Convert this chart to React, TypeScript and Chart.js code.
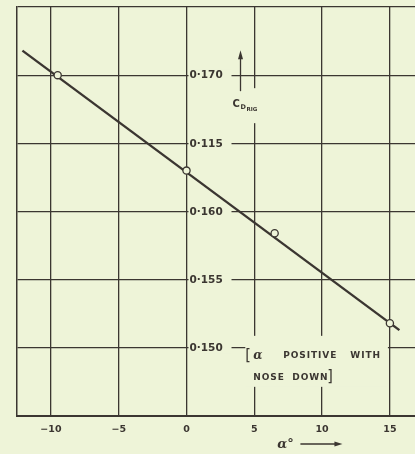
import React, { useEffect, useRef } from "react";
import { Chart, registerables } from "chart.js";

Chart.register(...registerables);

const xTicks = [-10, -5, 0, 5, 10, 15];
const xTickLabels = ["−10", "−5", "0", "5", "10", "15"];
const yTicks = [0.15, 0.155, 0.16, 0.165, 0.17];
const yTickLabels = ["0·150", "0·155", "0·160", "0·115", "0·170"];
const pointsX = [-9.5, 0, 6.5, 15];
const pointsY = [0.17, 0.163, 0.1584, 0.1518];
const lineX = [-12.1, 15.7];
const lineY = [0.1718, 0.1513];

const BG = "#eef4d8";
const INK = "#3b3631";
const FONT = "'DejaVu Sans', sans-serif";

const overlay = {
  id: "overlay",
  beforeDraw(chart: any) {
    const c = chart.ctx;
    c.save();
    c.fillStyle = BG;
    c.fillRect(0, 0, chart.width, chart.height);
    c.restore();
  },
  beforeDatasetsDraw(chart: any) {
    const c = chart.ctx;
    const xs = chart.scales.x;
    const ys = chart.scales.y;
    const x0 = xs.getPixelForValue(0);
    const x5 = xs.getPixelForValue(5);
    c.save();
    // y tick labels inside plot at x = 0
    c.font = `bold 10.5px ${FONT}`;
    c.textBaseline = "middle";
    c.textAlign = "left";
    yTicks.forEach((v, i) => {
      const py = ys.getPixelForValue(v);
      c.fillStyle = BG;
      c.fillRect(x0 + 2, py - 6, 43, 12);
      c.fillStyle = INK;
      c.fillText(yTickLabels[i], x0 + 3, py + 0.5);
    });
    // C_D RIG label and arrow
    const y170 = ys.getPixelForValue(0.17);
    c.fillStyle = BG;
    c.fillRect(x5 - 4, y170 + 13, 8, 35);
    c.strokeStyle = INK;
    c.fillStyle = INK;
    c.lineWidth = 1.3;
    const ax = x0 + 54;
    c.beginPath();
    c.moveTo(ax, y170 + 16);
    c.lineTo(ax, y170 - 20);
    c.stroke();
    c.beginPath();
    c.moveTo(ax, y170 - 25);
    c.lineTo(ax - 2.5, y170 - 16);
    c.lineTo(ax + 2.5, y170 - 16);
    c.closePath();
    c.fill();
    c.font = `bold 10px ${FONT}`;
    c.fillText("C", x0 + 46, y170 + 29);
    c.font = `bold 6.5px ${FONT}`;
    c.fillText("D", x0 + 54, y170 + 32);
    c.font = `bold 5.5px ${FONT}`;
    c.fillText("RIG", x0 + 60, y170 + 34);
    // annotation
    const y150 = ys.getPixelForValue(0.15);
    const x15 = xs.getPixelForValue(15);
    c.fillStyle = BG;
    c.fillRect(x5 - 9, y150 - 12, x15 - x5 + 7, 51);
    c.fillStyle = INK;
    c.font = `16px 'DejaVu Sans Condensed', ${FONT}`;
    c.fillText("[", x5 - 9, y150 + 8);
    c.font = `italic bold 12px 'DejaVu Serif', serif`;
    c.fillText("α", x5 - 1, y150 + 8);
    c.font = `bold 9px ${FONT}`;
    (c as any).letterSpacing = "0.9px";
    c.fillText("POSITIVE", x5 + 29, y150 + 8);
    c.fillText("WITH", x5 + 96, y150 + 8);
    c.fillText("NOSE", x5 - 1, y150 + 30);
    c.fillText("DOWN", x5 + 38, y150 + 30);
    (c as any).letterSpacing = "0px";
    c.font = `16px 'DejaVu Sans Condensed', ${FONT}`;
    c.fillText("]", x5 + 73, y150 + 29);
    // x axis label
    const bottom = chart.chartArea.bottom;
    c.font = `italic bold 13px 'DejaVu Serif', serif`;
    c.fillText("α°", xs.getPixelForValue(6.7), bottom + 29);
    c.beginPath();
    c.moveTo(xs.getPixelForValue(8.4), bottom + 28);
    c.lineTo(xs.getPixelForValue(11.2), bottom + 28);
    c.stroke();
    const hx = xs.getPixelForValue(11.5);
    c.beginPath();
    c.moveTo(hx, bottom + 28);
    c.lineTo(hx - 8, bottom + 25.5);
    c.lineTo(hx - 8, bottom + 30.5);
    c.closePath();
    c.fill();
    c.restore();
  },
};

export default function App() {
  const ref = useRef<HTMLCanvasElement>(null);
  useEffect(() => {
    document.body.style.margin = "0";
    document.body.style.background = BG;
    const chart = new Chart(ref.current!, {
      type: "scatter",
      data: {
        datasets: [
          {
            data: pointsX.map((x, i) => ({ x, y: pointsY[i] })),
            pointRadius: 3.6,
            pointBorderWidth: 1.3,
            borderColor: INK,
            backgroundColor: BG,
            showLine: false,
          },
          {
            type: "line",
            data: lineX.map((x, i) => ({ x, y: lineY[i] })),
            pointRadius: 0,
            borderWidth: 2.4,
            borderColor: INK,
            showLine: true,
          } as any,
        ],
      },
      options: {
        animation: false,
        responsive: false,
        layout: { autoPadding: false, padding: { left: 17, top: 7, right: 0, bottom: 0 } },
        plugins: { legend: { display: false }, tooltip: { enabled: false } },
        scales: {
          x: {
            type: "linear",
            min: -12.5,
            max: 16.85,
            afterBuildTicks: (s: any) => {
              s.ticks = xTicks.map((v) => ({ value: v }));
            },
            afterFit: (s: any) => {
              s.height = 38;
              s.paddingLeft = 0;
              s.paddingRight = 0;
            },
            ticks: {
              callback: (_v: any, i: number) => xTickLabels[i],
              font: { family: "'DejaVu Sans', sans-serif", size: 9.5, weight: "bold" },
              color: INK,
              padding: 8,
              maxRotation: 0,
            },
            grid: { color: INK, lineWidth: 1.3, drawTicks: false },
            border: { display: true, color: INK, width: 2 },
          },
          y: {
            type: "linear",
            min: 0.145,
            max: 0.175,
            afterBuildTicks: (s: any) => {
              s.ticks = [0.145, ...yTicks, 0.175].map((v) => ({ value: v }));
            },
            afterFit: (s: any) => {
              s.width = 0;
              s.paddingTop = 0;
              s.paddingBottom = 0;
            },
            ticks: { display: false },
            grid: { color: INK, lineWidth: 1.3, drawTicks: false },
            border: { display: true, color: INK, width: 1.5 },
          },
        },
      } as any,
      plugins: [overlay],
    });
    return () => chart.destroy();
  }, []);
  return <canvas ref={ref} width={415} height={454} style={{ display: "block" }} />;
}
